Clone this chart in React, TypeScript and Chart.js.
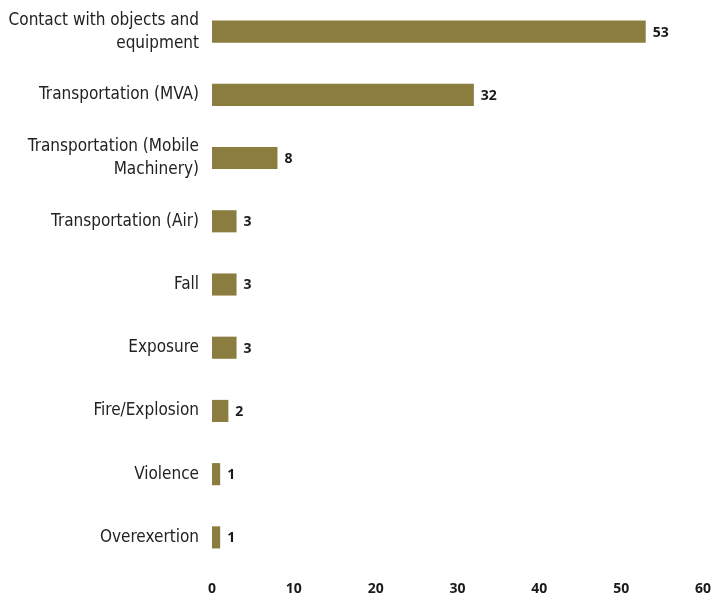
import React, { useEffect, useRef } from "react";
import { Chart, registerables } from "chart.js";

Chart.register(...registerables);

const categories: (string | string[])[] = [
  ["Contact with objects and", "equipment"],
  "Transportation (MVA)",
  ["Transportation (Mobile", "Machinery)"],
  "Transportation (Air)",
  "Fall",
  "Exposure",
  "Fire/Explosion",
  "Violence",
  "Overexertion",
];
const values: number[] = [53, 32, 8, 3, 3, 3, 2, 1, 1];
const xTicks: number[] = [0, 10, 20, 30, 40, 50, 60];

const BAR_COLOR = "#8b7d3f";
const LABEL_FONT = "'Liberation Sans Narrow', 'DejaVu Sans Condensed', sans-serif";
const BOLD_FONT = "'Open Sans', 'DejaVu Sans', sans-serif";

const valueLabels = {
  id: "valueLabels",
  afterDatasetsDraw(chart: any) {
    const ctx = chart.ctx;
    const meta = chart.getDatasetMeta(0);
    ctx.save();
    ctx.font = `bold 14px ${BOLD_FONT}`;
    ctx.fillStyle = "#1a1a1a";
    ctx.textAlign = "left";
    ctx.textBaseline = "middle";
    meta.data.forEach((bar: any, i: number) => {
      ctx.fillText(String(values[i]), bar.x + 7, bar.y + 1);
    });
    ctx.restore();
  },
};

export default function App() {
  const ref = useRef<HTMLCanvasElement>(null);
  useEffect(() => {
    if (!ref.current) return;
    const chart = new Chart(ref.current, {
      type: "bar",
      data: {
        labels: categories,
        datasets: [
          {
            data: values,
            backgroundColor: BAR_COLOR,
            borderWidth: 0,
            barPercentage: 0.7,
            categoryPercentage: 0.5,
          },
        ],
      },
      options: {
        indexAxis: "y",
        animation: false,
        responsive: false,
        layout: { padding: { top: 0, right: 11, left: 0, bottom: 0 } },
        plugins: { legend: { display: false }, tooltip: { enabled: false } },
        scales: {
          x: {
            min: 0,
            max: 60,
            afterBuildTicks: (s: any) => {
              s.ticks = xTicks.map((v) => ({ value: v }));
            },
            afterFit: (s: any) => {
              s.height = 31;
              s.paddingLeft = 0;
              s.paddingRight = 0;
            },
            grid: { display: false, drawTicks: false },
            border: { display: false },
            ticks: {
              padding: 12,
              color: "#1a1a1a",
              font: { family: BOLD_FONT, size: 14, weight: "bold" },
            },
          },
          y: {
            afterFit: (s: any) => {
              s.width = 212;
              s.paddingTop = 0;
              s.paddingBottom = 0;
            },
            grid: { display: false, drawTicks: false },
            border: { display: false },
            ticks: {
              padding: 13,
              color: "#222",
              font: { family: LABEL_FONT, size: 17, lineHeight: 1.35 },
            },
          },
        },
      },
      plugins: [valueLabels],
    });
    return () => chart.destroy();
  }, []);
  return (
    <div style={{ position: "absolute", left: 0, top: 0, width: 714, height: 600, background: "#fff" }}>
      <canvas ref={ref} width={714} height={600} style={{ width: 714, height: 600 }} />
    </div>
  );
}
